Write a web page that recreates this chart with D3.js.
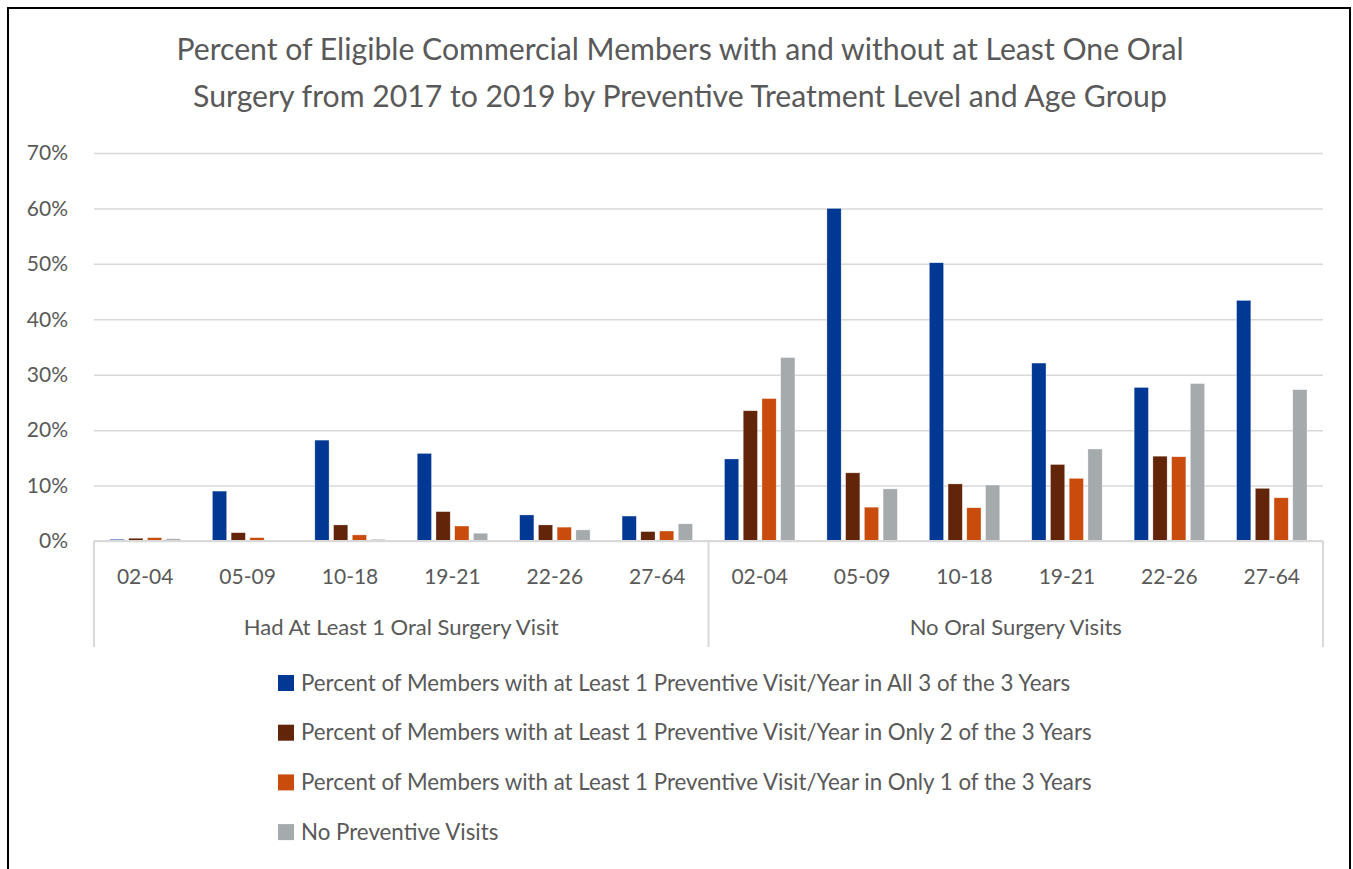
<!DOCTYPE html>
<html>
<head>
<meta charset="utf-8">
<script src="https://cdn.jsdelivr.net/npm/d3@7"></script>
<style>
  body { margin: 0; background: #fff; }
  text { font-family: Lato, "Noto Sans", sans-serif; fill: #595959; }
</style>
</head>
<body>
<svg></svg>
<script>
const w = 1353;
const h = 869;

const groups = ['Had At Least 1 Oral Surgery Visit', 'No Oral Surgery Visits'];
const ages = ['02-04', '05-09', '10-18', '19-21', '22-26', '27-64'];
const seriesNames = [
	'Percent of Members with at Least 1 Preventive Visit/Year in All 3 of the 3 Years',
	'Percent of Members with at Least 1 Preventive Visit/Year in Only 2 of the 3 Years',
	'Percent of Members with at Least 1 Preventive Visit/Year in Only 1 of the 3 Years',
	'No Preventive Visits'
];
const colors = ['#003893', '#62250A', '#C94C0C', '#A5AAAD'];

// values in %, order: had surgery (6 ages) then no surgery (6 ages)
const allThree = [0.3, 9.0, 18.2, 15.8, 4.7, 4.5, 14.8, 60.0, 50.2, 32.1, 27.7, 43.4];
const onlyTwo = [0.5, 1.5, 2.9, 5.3, 2.9, 1.7, 23.5, 12.3, 10.3, 13.8, 15.3, 9.5];
const onlyOne = [0.6, 0.6, 1.1, 2.7, 2.5, 1.8, 25.7, 6.1, 6.0, 11.3, 15.2, 7.8];
const noVisits = [0.4, 0, 0.3, 1.4, 2.0, 3.1, 33.1, 9.4, 10.1, 16.6, 28.4, 27.3];
const yTicks = [0, 10, 20, 30, 40, 50, 60, 70];

const titleLines = [
	'Percent of Eligible Commercial Members with and without at Least One Oral',
	'Surgery from 2017 to 2019 by Preventive Treatment Level and Age Group'
];

const plotLeft = 94;
const plotRight = 1323;
const plotTop = 153;
const plotBottom = 541;

const seriesValues = [allThree, onlyTwo, onlyOne, noVisits];
const cats = [];
groups.forEach((g, gi) => ages.forEach((a) => cats.push({ group: gi, age: a })));

let canvas = d3.select('svg').attr('width', w).attr('height', h);

const x0 = d3.scaleBand().domain(d3.range(cats.length)).range([plotLeft, plotRight]);
const x1 = d3
	.scaleBand()
	.domain(d3.range(seriesNames.length))
	.range([16, x0.bandwidth() - 16])
	.paddingInner(0.24);
const y = d3.scaleLinear().domain([0, 70]).range([plotBottom, plotTop]);

// border
canvas
	.append('rect')
	.attr('x', 8)
	.attr('y', 8)
	.attr('width', 1342)
	.attr('height', 900)
	.attr('fill', 'none')
	.attr('stroke', '#000')
	.attr('stroke-width', 2);

// title
canvas
	.append('g')
	.selectAll('text')
	.data(titleLines)
	.enter()
	.append('text')
	.attr('x', 680)
	.attr('y', (d, i) => 60 + i * 47)
	.attr('text-anchor', 'middle')
	.attr('font-size', 30.2)
	.text((d) => d);

// gridlines + y labels
const yAxis = d3
	.axisLeft(y)
	.tickValues(yTicks)
	.tickSize(-(plotRight - plotLeft))
	.tickPadding(26)
	.tickFormat((d) => d + '%');
const yG = canvas.append('g').attr('transform', `translate(${plotLeft},0)`).call(yAxis);
yG.select('.domain').remove();
yG.selectAll('.tick line').attr('stroke', '#d9d9d9').attr('stroke-width', 1.5);
yG.selectAll('.tick text').attr('font-size', 21).attr('fill', '#595959').style('font-family', 'Lato, "Noto Sans", sans-serif');

// bars
const catG = canvas
	.append('g')
	.selectAll('g')
	.data(cats)
	.enter()
	.append('g')
	.attr('transform', (d, i) => `translate(${x0(i)},0)`);

catG
	.selectAll('rect')
	.data((d, i) => seriesValues.map((s, si) => ({ si: si, v: s[i] })))
	.enter()
	.append('rect')
	.attr('x', (d) => x1(d.si))
	.attr('width', x1.bandwidth())
	.attr('y', (d) => y(d.v))
	.attr('height', (d) => plotBottom - y(d.v))
	.attr('fill', (d) => colors[d.si])
	.attr('stroke', '#fff')
	.attr('stroke-opacity', 0.5)
	.attr('stroke-width', 0.6);

// x axis frame
const frame = canvas.append('g').attr('stroke', '#d9d9d9').attr('stroke-width', 2).attr('fill', 'none');
frame.append('line').attr('x1', plotLeft).attr('x2', plotRight).attr('y1', plotBottom).attr('y2', plotBottom);
[0, ages.length, cats.length].forEach((k) => {
	const xx = k === cats.length ? plotRight : x0(k);
	frame.append('line').attr('x1', xx).attr('x2', xx).attr('y1', plotBottom).attr('y2', 647);
});

// age labels
canvas
	.append('g')
	.selectAll('text')
	.data(cats)
	.enter()
	.append('text')
	.attr('x', (d, i) => x0(i) + x0.bandwidth() / 2)
	.attr('y', 584)
	.attr('text-anchor', 'middle')
	.attr('font-size', 21)
	.text((d) => d.age);

// group labels
canvas
	.append('g')
	.selectAll('text')
	.data(groups)
	.enter()
	.append('text')
	.attr('x', (d, i) => (x0(i * ages.length) + (i === groups.length - 1 ? plotRight : x0((i + 1) * ages.length))) / 2)
	.attr('y', 635)
	.attr('text-anchor', 'middle')
	.attr('font-size', 22)
	.text((d) => d);

// legend
const leg = canvas
	.append('g')
	.selectAll('g')
	.data(seriesNames)
	.enter()
	.append('g')
	.attr('transform', (d, i) => `translate(278,${683 + i * 49.7})`);
leg
	.append('rect')
	.attr('x', 0)
	.attr('y', -8)
	.attr('width', 16)
	.attr('height', 16)
	.attr('fill', (d, i) => colors[i]);
leg
	.append('text')
	.attr('x', 23)
	.attr('y', 7.5)
	.attr('font-size', 22.3)
	.text((d) => d);
</script>
</body>
</html>
